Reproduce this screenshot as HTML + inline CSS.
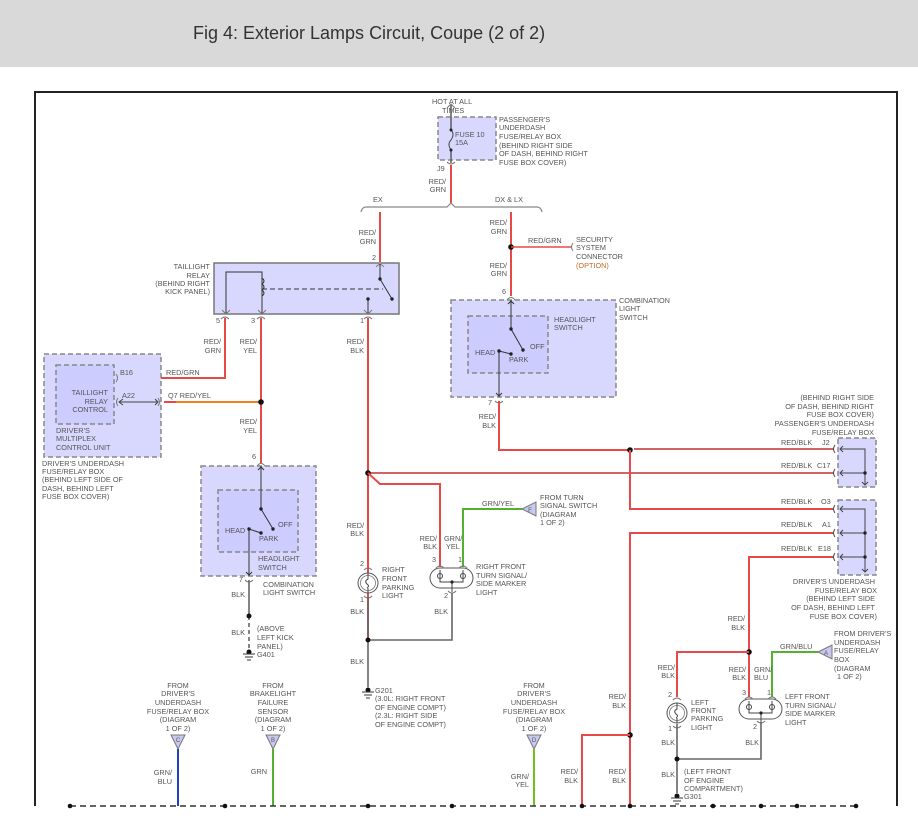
<!DOCTYPE html>
<html><head><meta charset="utf-8"><style>
html,body{margin:0;padding:0;background:#fff;width:918px;height:819px;overflow:hidden}
svg{display:block}
text{font-family:"Liberation Sans",sans-serif;font-size:7.3px;fill:#555}
.r{stroke:#e84848;stroke-width:2;fill:none}
.k{stroke:#666;stroke-width:1.6;fill:none}
.g{stroke:#55b030;stroke-width:2;fill:none}
.box{fill:#d8d8ff;stroke:#888;stroke-width:1.5;stroke-dasharray:5,3}
.in{fill:#ccccff;stroke:#888;stroke-width:1.5;stroke-dasharray:5,3}
.e{text-anchor:end}.m{text-anchor:middle}
.p{stroke:#777;stroke-width:1;fill:none}
.tri{fill:#c8c8f0;stroke:#777;stroke-width:1}
</style></head><body>
<svg width="918" height="819" viewBox="0 0 918 819">
<rect x="0" y="0" width="918" height="67" fill="#d9d9d9"/>
<text x="193" y="39" style="font-size:18px;fill:#333">Fig 4: Exterior Lamps Circuit, Coupe (2 of 2)</text>
<path d="M35 806V92H897V806" stroke="#222" stroke-width="2" fill="none"/>

<!-- fuse box -->
<rect class="box" x="438" y="117" width="58" height="43"/>
<path class="k" d="M451 105V130M451 150V163" stroke-width="1.2"/>
<path d="M451 130q4 4 0 10q-4 4 0 10" stroke="#444" fill="none"/>
<circle cx="451" cy="130" r="1.5" fill="#222"/><circle cx="451" cy="150" r="1.5" fill="#222"/>
<path class="p" d="M447 108l4-4 4 4M447 162q4 4 8 0"/>
<text x="432" y="104">HOT AT ALL</text><text x="442" y="113">TIMES</text>
<text x="455" y="137">FUSE 10</text><text x="455" y="145">15A</text>
<text x="499" y="122">PASSENGER'S</text><text x="499" y="130">UNDERDASH</text><text x="499" y="139">FUSE/RELAY BOX</text><text x="499" y="148">(BEHIND RIGHT SIDE</text><text x="499" y="156">OF DASH, BEHIND RIGHT</text><text x="499" y="165">FUSE BOX COVER)</text>
<text x="437" y="171">J9</text>
<path class="r" d="M451 165V203"/>
<text x="446" y="184" class="e">RED/</text><text x="446" y="192" class="e">GRN</text>
<path d="M361 212q1-5 5-5H447l4-4 4 4H537q4 0 5 5" stroke="#888" stroke-width="1.2" fill="none"/>
<text x="373" y="202">EX</text><text x="495" y="202">DX &amp; LX</text>

<!-- EX branch -->
<path class="r" d="M380 212V262"/>
<text x="376" y="235" class="e">RED/</text><text x="376" y="244" class="e">GRN</text>
<text x="372" y="260">2</text>
<!-- relay -->
<rect x="214" y="263" width="185" height="51" fill="#d8d8ff" stroke="#777" stroke-width="1.5"/>
<path class="p" d="M376 267q4-5 8 0"/>
<path d="M380 264V279L392 299M368 299V314M226 314V272H262V314" stroke="#333" stroke-width="1" fill="none"/>
<path d="M262 278q4 3 0 6q4 3 0 6q4 3 0 6" stroke="#333" fill="none"/>
<path d="M262 289H383" stroke="#333" stroke-width="1" stroke-dasharray="5,3"/>
<circle cx="380" cy="279" r="1.7" fill="#222"/><circle cx="392" cy="299" r="1.7" fill="#222"/><circle cx="368" cy="299" r="1.7" fill="#222"/>
<path class="p" d="M222 310l4 4 4-4M258 310l4 4 4-4M364 310l4 4 4-4M221 319q4-4 8 0M257 319q4-4 8 0M364 319q4-4 8 0"/>
<text x="210" y="269" class="e">TAILLIGHT</text><text x="210" y="278" class="e">RELAY</text><text x="210" y="286" class="e">(BEHIND RIGHT</text><text x="210" y="294" class="e">KICK PANEL)</text>
<text x="216" y="323">5</text><text x="251" y="323">3</text><text x="360" y="323">1</text>
<path class="r" d="M225 318V378H118"/>
<text x="221" y="344" class="e">RED/</text><text x="221" y="353" class="e">GRN</text>
<text x="166" y="375">RED/GRN</text>
<path class="r" d="M261 318V463"/>
<path d="M164 402H261" stroke="#f08020" stroke-width="2"/>
<path d="M164 402H176" stroke="#e84848" stroke-width="2"/>
<circle cx="261" cy="402" r="2.8" fill="#111"/>
<text x="257" y="344" class="e">RED/</text><text x="257" y="353" class="e">YEL</text>
<text x="257" y="424" class="e">RED/</text><text x="257" y="433" class="e">YEL</text>
<text x="168" y="398">Q7  RED/YEL</text>
<path class="r" d="M368 318V640"/>
<text x="364" y="344" class="e">RED/</text><text x="364" y="353" class="e">BLK</text>

<!-- multiplex -->
<rect class="box" x="44" y="354" width="117" height="103"/>
<rect class="in" x="56" y="365" width="58" height="59"/>
<path class="p" d="M116 374q3 4 0 8M118 398q-3 4 0 8M158 398q3 4 0 8"/>
<path d="M119 402H158M123 399l-4 3 4 3M155 399l3 3-3 3" stroke="#444" stroke-width="1" fill="none"/>
<text x="108" y="395" class="e">TAILLIGHT</text><text x="108" y="404" class="e">RELAY</text><text x="108" y="412" class="e">CONTROL</text>
<text x="120" y="375">B16</text><text x="122" y="398">A22</text>
<text x="56" y="433">DRIVER'S</text><text x="56" y="441">MULTIPLEX</text><text x="56" y="450">CONTROL UNIT</text>
<text x="42" y="466">DRIVER'S UNDERDASH</text><text x="42" y="474">FUSE/RELAY BOX</text><text x="42" y="482">(BEHIND LEFT SIDE OF</text><text x="42" y="491">DASH, BEHIND LEFT</text><text x="42" y="499">FUSE BOX COVER)</text>

<!-- left combination switch -->
<rect class="box" x="201" y="466" width="115" height="110"/>
<rect class="in" x="218" y="490" width="80" height="62"/>
<path class="p" d="M257 466q4-5 8 0M245 580q4 4 8 0"/>
<path d="M261 466V509L273 529M249 529L261 533M249 529V576M258 470l3-3 3 3M246 572l3 3 3-3" stroke="#333" stroke-width="1" fill="none"/>
<circle cx="261" cy="509" r="1.7" fill="#222"/><circle cx="273" cy="529" r="1.7" fill="#222"/><circle cx="249" cy="529" r="1.7" fill="#222"/><circle cx="261" cy="533" r="1.7" fill="#222"/>
<text x="278" y="527">OFF</text><text x="225" y="533">HEAD</text><text x="259" y="541">PARK</text>
<text x="258" y="561">HEADLIGHT</text><text x="258" y="570">SWITCH</text>
<text x="252" y="459">6</text><text x="239" y="582">7</text>
<text x="263" y="587">COMBINATION</text><text x="263" y="595">LIGHT SWITCH</text>
<path class="k" d="M249 580V616"/><path class="k" d="M249 616V650" stroke-dasharray="4,3"/>
<circle cx="249" cy="616" r="2.5" fill="#111"/>
<circle cx="249" cy="652" r="2.5" fill="#111"/><path d="M243 654H255M245 657H253M247 660H251" stroke="#333" stroke-width="1"/>
<text x="245" y="597" class="e">BLK</text><text x="245" y="635" class="e">BLK</text>
<text x="257" y="631">(ABOVE</text><text x="257" y="640">LEFT KICK</text><text x="257" y="649">PANEL)</text><text x="257" y="657">G401</text>

<!-- DX branch -->
<path class="r" d="M511 212V296"/>
<circle cx="511" cy="247" r="2.8" fill="#111"/>
<path d="M511 247H571" stroke="#e84848" stroke-width="1.6"/><path class="p" d="M573 243q-3 4 0 8"/>
<text x="507" y="225" class="e">RED/</text><text x="507" y="234" class="e">GRN</text>
<text x="528" y="243">RED/GRN</text>
<text x="507" y="268" class="e">RED/</text><text x="507" y="276" class="e">GRN</text>
<text x="576" y="242">SECURITY</text><text x="576" y="250">SYSTEM</text><text x="576" y="259">CONNECTOR</text><text x="576" y="268" style="fill:#c86a20">(OPTION)</text>
<text x="502" y="294">6</text>
<rect class="box" x="451" y="300" width="165" height="97"/>
<rect class="in" x="468" y="316" width="80" height="57"/>
<path class="p" d="M507 300q4-5 8 0M495 401q4 4 8 0"/>
<path d="M511 300V329L523 350M499 351L511 354M499 351V397M508 304l3-3 3 3M496 393l3 3 3-3" stroke="#333" stroke-width="1" fill="none"/>
<circle cx="511" cy="329" r="1.7" fill="#222"/><circle cx="523" cy="350" r="1.7" fill="#222"/><circle cx="499" cy="351" r="1.7" fill="#222"/><circle cx="511" cy="354" r="1.7" fill="#222"/>
<text x="554" y="322">HEADLIGHT</text><text x="554" y="330">SWITCH</text>
<text x="530" y="349">OFF</text><text x="475" y="355">HEAD</text><text x="509" y="362">PARK</text>
<text x="619" y="303">COMBINATION</text><text x="619" y="311">LIGHT</text><text x="619" y="320">SWITCH</text>
<text x="488" y="405">7</text>
<path class="r" d="M499 401V450H630"/>
<text x="496" y="419" class="e">RED/</text><text x="496" y="428" class="e">BLK</text>

<!-- right side buses -->
<path d="M634 449H833" stroke="#c03030" stroke-width="1.6"/>
<path d="M368 473H833" stroke="#c03030" stroke-width="1.6"/>
<circle cx="630" cy="450" r="2.8" fill="#111"/><circle cx="368" cy="473" r="2.8" fill="#111"/>
<path class="r" d="M630 450V509H833"/>
<path class="r" d="M833 533H630V806"/>
<path class="r" d="M833 557H749V697"/>
<circle cx="630" cy="735" r="2.8" fill="#111"/>
<path class="r" d="M630 735H582V806"/>
<text x="781" y="445">RED/BLK</text><text x="822" y="445">J2</text>
<text x="781" y="468">RED/BLK</text><text x="817" y="468">C17</text>
<text x="781" y="504">RED/BLK</text><text x="821" y="504">O3</text>
<text x="781" y="527">RED/BLK</text><text x="822" y="527">A1</text>
<text x="781" y="551">RED/BLK</text><text x="818" y="551">E18</text>
<rect class="box" x="838" y="438" width="38" height="49"/>
<rect class="box" x="838" y="500" width="38" height="75"/>
<g stroke="#444" stroke-width="1" fill="none">
<path d="M835 445q-3 4 0 8M835 469q-3 4 0 8M835 505q-3 4 0 8M835 529q-3 4 0 8M835 553q-3 4 0 8"/>
<path d="M840 449H865V485M840 473H865M840 509H865V572M840 533H865M840 557H865"/>
<path d="M843 446l-3 3 3 3M843 470l-3 3 3 3M843 506l-3 3 3 3M843 530l-3 3 3 3M843 554l-3 3 3 3M862 482l3 3 3-3M862 569l3 3 3-3"/>
</g>
<circle cx="865" cy="473" r="1.7" fill="#222"/><circle cx="865" cy="533" r="1.7" fill="#222"/><circle cx="865" cy="557" r="1.7" fill="#222"/>
<text x="874" y="400" class="e">(BEHIND RIGHT SIDE</text><text x="874" y="409" class="e">OF DASH, BEHIND RIGHT</text><text x="874" y="417" class="e">FUSE BOX COVER)</text><text x="874" y="426" class="e">PASSENGER'S UNDERDASH</text><text x="874" y="435" class="e">FUSE/RELAY BOX</text>
<text x="875" y="584" class="e">DRIVER'S UNDERDASH</text><text x="877" y="593" class="e">FUSE/RELAY BOX</text><text x="875" y="601" class="e">(BEHIND LEFT SIDE</text><text x="875" y="610" class="e">OF DASH, BEHIND LEFT</text><text x="877" y="619" class="e">FUSE BOX COVER)</text>
<text x="745" y="621" class="e">RED/</text><text x="745" y="630" class="e">BLK</text>

<!-- left front lights -->
<circle cx="749" cy="652" r="2.8" fill="#111"/>
<path class="r" d="M749 652H677V697"/>
<path class="g" d="M772 697V652H818"/>
<path class="tri" d="M818 652L832 645V659Z"/><text x="826" y="655" class="m" style="font-size:6px">A</text>
<text x="780" y="649">GRN/BLU</text>
<text x="834" y="636">FROM DRIVER'S</text><text x="834" y="645">UNDERDASH</text><text x="834" y="653">FUSE/RELAY</text><text x="834" y="662">BOX</text><text x="834" y="671">(DIAGRAM</text><text x="837" y="679">1 OF 2)</text>
<text x="675" y="670" class="e">RED/</text><text x="675" y="678" class="e">BLK</text>
<text x="746" y="672" class="e">RED/</text><text x="746" y="680" class="e">BLK</text>
<text x="754" y="672">GRN/</text><text x="754" y="680">BLU</text>
<circle cx="677" cy="713" r="10" fill="#fff" stroke="#555" stroke-width="1"/>
<circle cx="677" cy="713" r="7.5" fill="none" stroke="#777" stroke-width=".8"/>
<path d="M677 703V709q-4 2-1 5q3 2 0 4M677 718V723" stroke="#444" fill="none"/>
<path class="p" d="M673 700q4-4 8 0M673 726q4 4 8 0"/>
<text x="668" y="697">2</text><text x="668" y="731">1</text>
<text x="691" y="705">LEFT</text><text x="691" y="713">FRONT</text><text x="691" y="721">PARKING</text><text x="691" y="730">LIGHT</text>
<rect x="739" y="699" width="43" height="20" rx="10" fill="#fff" stroke="#555" stroke-width="1"/>
<path d="M749 701V713H772V701M761 713V722" stroke="#444" stroke-width="1" fill="none"/>
<circle cx="749" cy="707" r="2.5" fill="none" stroke="#444"/><circle cx="772" cy="707" r="2.5" fill="none" stroke="#444"/><circle cx="761" cy="713" r="1.6" fill="#222"/>
<path class="p" d="M745 699q4-4 8 0M768 699q4-4 8 0M757 721q4 4 8 0"/>
<text x="742" y="695">3</text><text x="767" y="695">1</text><text x="753" y="729">2</text>
<text x="785" y="699">LEFT FRONT</text><text x="785" y="708">TURN SIGNAL/</text><text x="785" y="716">SIDE MARKER</text><text x="785" y="725">LIGHT</text>
<path class="k" d="M677 724V759H761V722M677 759V793"/>
<circle cx="677" cy="759" r="2.5" fill="#111"/>
<circle cx="677" cy="796" r="2.5" fill="#111"/><path d="M671 798H683M673 801H681M675 804H679" stroke="#333" stroke-width="1"/>
<text x="675" y="745" class="e">BLK</text><text x="759" y="745" class="e">BLK</text><text x="675" y="777" class="e">BLK</text>
<text x="684" y="774">(LEFT FRONT</text><text x="684" y="783">OF ENGINE</text><text x="684" y="791">COMPARTMENT)</text><text x="684" y="799">G301</text>
<text x="626" y="699" class="e">RED/</text><text x="626" y="708" class="e">BLK</text>
<text x="626" y="774" class="e">RED/</text><text x="626" y="783" class="e">BLK</text>
<text x="578" y="774" class="e">RED/</text><text x="578" y="783" class="e">BLK</text>

<!-- right front lights -->
<path class="r" d="M368 473L380 484H440V567"/>
<text x="364" y="528" class="e">RED/</text><text x="364" y="536" class="e">BLK</text>
<text x="437" y="541" class="e">RED/</text><text x="437" y="549" class="e">BLK</text>
<text x="444" y="541">GRN/</text><text x="446" y="549">YEL</text>
<path class="g" d="M463 567V509H522"/>
<path class="tri" d="M522 509L536 502V516Z"/><text x="530" y="512" class="m" style="font-size:6px">F</text>
<text x="482" y="506">GRN/YEL</text>
<text x="540" y="500">FROM TURN</text><text x="540" y="508">SIGNAL SWITCH</text><text x="540" y="517">(DIAGRAM</text><text x="540" y="525">1 OF 2)</text>
<circle cx="368" cy="583" r="10" fill="#fff" stroke="#555" stroke-width="1"/>
<circle cx="368" cy="583" r="7.5" fill="none" stroke="#777" stroke-width=".8"/>
<path d="M368 573V579q-4 2-1 5q3 2 0 4M368 588V593" stroke="#444" fill="none"/>
<path class="p" d="M364 570q4-4 8 0M364 596q4 4 8 0"/>
<text x="360" y="566">2</text><text x="360" y="602">1</text>
<text x="382" y="572">RIGHT</text><text x="382" y="581">FRONT</text><text x="382" y="590">PARKING</text><text x="382" y="598">LIGHT</text>
<rect x="430" y="568" width="43" height="20" rx="10" fill="#fff" stroke="#555" stroke-width="1"/>
<path d="M440 570V582H463V570M452 582V592" stroke="#444" stroke-width="1" fill="none"/>
<circle cx="440" cy="576" r="2.5" fill="none" stroke="#444"/><circle cx="463" cy="576" r="2.5" fill="none" stroke="#444"/><circle cx="452" cy="582" r="1.6" fill="#222"/>
<path class="p" d="M436 568q4-4 8 0M459 568q4-4 8 0M448 591q4 4 8 0"/>
<text x="432" y="562">3</text><text x="458" y="562">1</text><text x="444" y="598">2</text>
<text x="476" y="569">RIGHT FRONT</text><text x="476" y="578">TURN SIGNAL/</text><text x="476" y="586">SIDE MARKER</text><text x="476" y="595">LIGHT</text>
<path class="k" d="M368 597V640H452V593M368 640V687"/>
<circle cx="368" cy="640" r="2.5" fill="#111"/>
<circle cx="368" cy="690" r="2.5" fill="#111"/><path d="M362 692H374M364 695H372M366 698H370" stroke="#333" stroke-width="1"/>
<text x="364" y="614" class="e">BLK</text><text x="448" y="614" class="e">BLK</text><text x="364" y="664" class="e">BLK</text>
<text x="375" y="693">G201</text><text x="375" y="701">(3.0L: RIGHT FRONT</text><text x="375" y="710">OF ENGINE COMPT)</text><text x="375" y="718">(2.3L: RIGHT SIDE</text><text x="375" y="727">OF ENGINE COMPT)</text>

<!-- bottom feeds -->
<text x="178" y="688" class="m">FROM</text><text x="178" y="696" class="m">DRIVER'S</text><text x="178" y="705" class="m">UNDERDASH</text><text x="178" y="714" class="m">FUSE/RELAY BOX</text><text x="178" y="722" class="m">(DIAGRAM</text><text x="178" y="731" class="m">1 OF 2)</text>
<text x="273" y="688" class="m">FROM</text><text x="273" y="696" class="m">BRAKELIGHT</text><text x="273" y="705" class="m">FAILURE</text><text x="273" y="714" class="m">SENSOR</text><text x="273" y="722" class="m">(DIAGRAM</text><text x="273" y="731" class="m">1 OF 2)</text>
<text x="534" y="688" class="m">FROM</text><text x="534" y="696" class="m">DRIVER'S</text><text x="534" y="705" class="m">UNDERDASH</text><text x="534" y="714" class="m">FUSE/RELAY BOX</text><text x="534" y="722" class="m">(DIAGRAM</text><text x="534" y="731" class="m">1 OF 2)</text>
<path class="tri" d="M171 735H185L178 749Z"/><text x="178" y="742" class="m" style="font-size:6px">C</text>
<path class="tri" d="M266 735H280L273 749Z"/><text x="273" y="742" class="m" style="font-size:6px">B</text>
<path class="tri" d="M527 735H541L534 749Z"/><text x="534" y="742" class="m" style="font-size:6px">D</text>
<path d="M178 749V806" stroke="#2040c0" stroke-width="2"/>
<path class="g" d="M273 749V806"/>
<path d="M534 749V806" stroke="#70c020" stroke-width="2"/>
<text x="172" y="775" class="e">GRN/</text><text x="172" y="784" class="e">BLU</text>
<text x="267" y="774" class="e">GRN</text>
<text x="529" y="779" class="e">GRN/</text><text x="529" y="787" class="e">YEL</text>
<path d="M70 806H860" stroke="#333" stroke-width="1.5" stroke-dasharray="6,4"/>
<g fill="#111"><circle cx="70" cy="806" r="2.3"/><circle cx="225" cy="806" r="2.3"/><circle cx="368" cy="806" r="2.3"/><circle cx="452" cy="806" r="2.3"/><circle cx="582" cy="806" r="2.3"/><circle cx="630" cy="806" r="2.3"/><circle cx="713" cy="806" r="2.3"/><circle cx="761" cy="806" r="2.3"/><circle cx="797" cy="806" r="2.3"/><circle cx="856" cy="806" r="2.3"/></g>
</svg>
</body></html>
